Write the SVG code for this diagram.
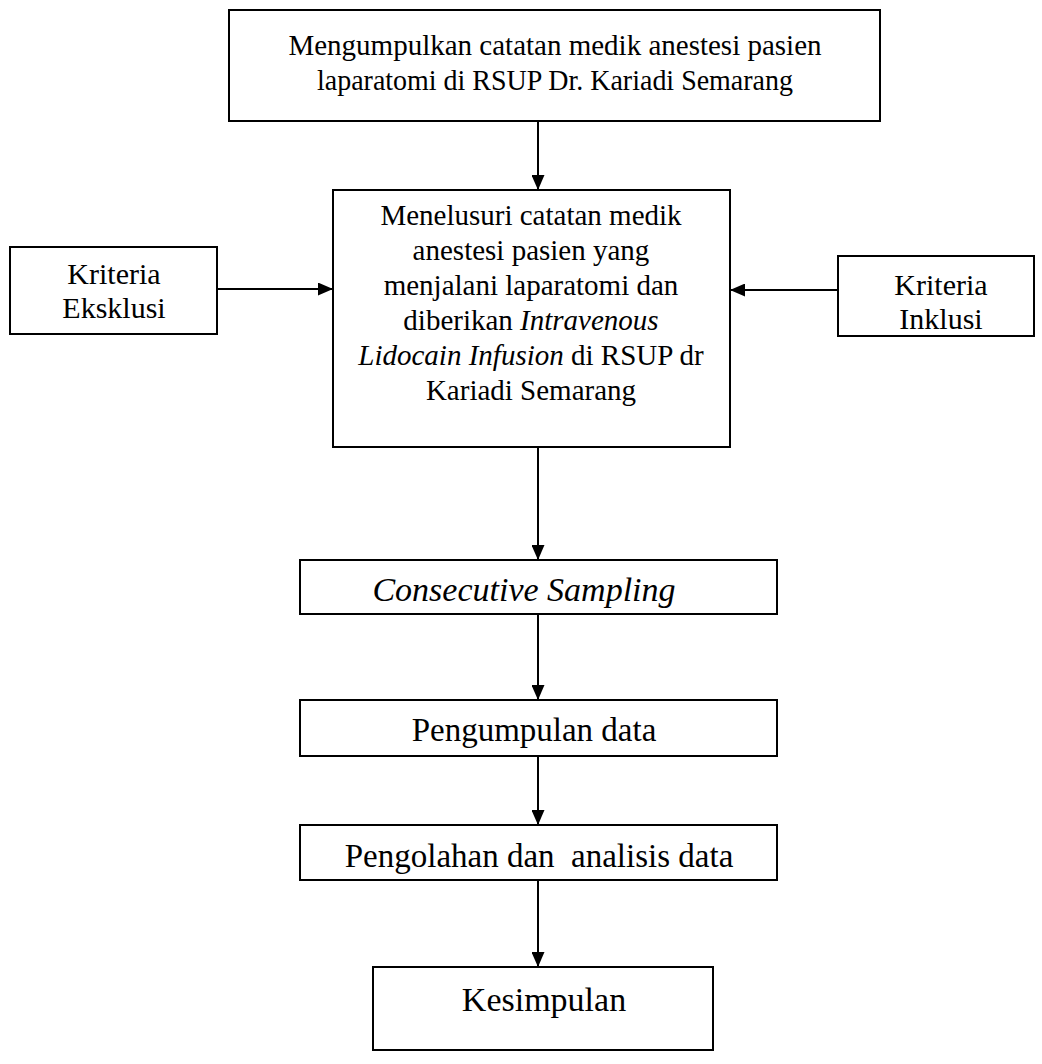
<svg xmlns="http://www.w3.org/2000/svg" width="1042" height="1064" viewBox="0 0 1042 1064">
<style>
.box{fill:#fff;stroke:#000;stroke-width:2}
.t{font-family:"Liberation Serif","Times New Roman",serif;font-size:29px;fill:#000;text-anchor:middle}
.s{font-size:30px}
.i{font-style:italic}
.c{stroke:#000;stroke-width:2;fill:none;marker-end:url(#ah)}
</style>
<defs>
<marker id="ah" viewBox="0 0 15 13" refX="15" refY="6.5" markerWidth="15" markerHeight="13" markerUnits="userSpaceOnUse" orient="auto">
<path d="M0,0 L15,6.5 L0,13 Z" fill="#000"/>
</marker>
</defs>
<rect width="1042" height="1064" fill="#fff"/>
<g id="connectors">
<line class="c" x1="538" y1="121" x2="538" y2="190"/>
<line class="c" x1="217" y1="289" x2="333" y2="289"/>
<line class="c" x1="838" y1="290" x2="730" y2="290"/>
<line class="c" x1="538" y1="447" x2="538" y2="560"/>
<line class="c" x1="538" y1="614" x2="538" y2="700"/>
<line class="c" x1="538" y1="756" x2="538" y2="825"/>
<line class="c" x1="538" y1="880" x2="538" y2="967"/>
</g>
<g id="node-collect">
<rect class="box" x="229" y="10" width="651" height="111"/>
<text class="t" x="555" y="55">Mengumpulkan catatan medik anestesi pasien</text>
<text class="t" x="555" y="90" textLength="476" lengthAdjust="spacingAndGlyphs">laparatomi di RSUP Dr. Kariadi Semarang</text>
</g>
<g id="node-trace">
<rect class="box" x="333" y="190" width="397" height="257"/>
<text class="t" x="531" y="225">Menelusuri catatan medik</text>
<text class="t" x="531" y="260">anestesi pasien yang</text>
<text class="t" x="531" y="295">menjalani laparatomi dan</text>
<text class="t" x="531" y="330">diberikan <tspan class="i">Intravenous</tspan></text>
<text class="t" x="531" y="365"><tspan class="i">Lidocain Infusion</tspan> di RSUP dr</text>
<text class="t" x="531" y="400">Kariadi Semarang</text>
</g>
<g id="node-exclusion">
<rect class="box" x="10" y="247" width="207" height="87"/>
<text class="t s" x="114" y="284">Kriteria</text>
<text class="t s" x="114" y="318">Eksklusi</text>
</g>
<g id="node-inclusion">
<rect class="box" x="838" y="256" width="196" height="80"/>
<text class="t s" x="941" y="295">Kriteria</text>
<text class="t s" x="941" y="329">Inklusi</text>
</g>
<g id="node-sampling">
<rect class="box" x="300" y="560" width="477" height="54"/>
<text class="t i" x="524" y="601" style="font-size:34px">Consecutive Sampling</text>
</g>
<g id="node-collection">
<rect class="box" x="300" y="700" width="477" height="56"/>
<text class="t" x="534" y="741" style="font-size:33px">Pengumpulan data</text>
</g>
<g id="node-analysis">
<rect class="box" x="300" y="825" width="477" height="55"/>
<text class="t" x="539" y="867" style="font-size:33px">Pengolahan dan&#160; analisis data</text>
</g>
<g id="node-conclusion">
<rect class="box" x="373" y="967" width="340" height="83"/>
<text class="t" x="544" y="1011" style="font-size:34px">Kesimpulan</text>
</g>
</svg>
